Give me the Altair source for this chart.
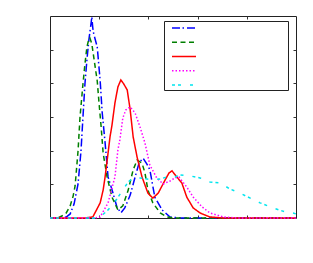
import altair as alt
import pandas as pd

# series names (legend labels are blank in the reference)
names = ["s1", "s2", "s3", "s4", "s5"]
colors = ["#0000ff", "#007f00", "#ff0000", "#ff00ff", "#00e5ee"]
dashes = [[8, 2.5, 1.5, 3], [5, 3.5], [1, 0], [1.5, 2], [3, 3, 3, 9]]

blue_x = [0, 0.24, 0.33, 0.41, 0.49, 0.57, 0.63, 0.67, 0.71, 0.75, 0.79, 0.83, 0.85, 0.87, 0.89, 0.96, 1.02,
          1.06, 1.12, 1.18, 1.28, 1.36, 1.44, 1.52, 1.63, 1.73, 1.81, 1.89, 1.97, 2.03, 2.13, 2.28, 2.44, 2.64, 5.0]
blue_y = [0, 0, 0.03, 0.12, 0.42, 1.01, 1.99, 3.0, 3.98, 4.69, 5.29, 5.73, 5.97, 5.64, 5.46, 5.08, 4.07,
          3.15, 2.23, 1.22, 0.74, 0.33, 0.15, 0.30, 0.68, 1.22, 1.63, 1.78, 1.60, 1.43, 0.62, 0.24, 0.03, 0, 0]

green_x = [0, 0.16, 0.24, 0.33, 0.41, 0.47, 0.51, 0.57, 0.61, 0.67, 0.71, 0.75, 0.79, 0.81, 0.85, 0.91, 0.96,
           1.00, 1.04, 1.08, 1.16, 1.26, 1.38, 1.48, 1.59, 1.69, 1.77, 1.87, 1.93, 1.99, 2.09, 2.24, 2.38, 2.54, 5.0]
green_y = [0, 0, 0.06, 0.15, 0.36, 0.65, 0.95, 1.99, 3.0, 3.98, 4.57, 5.08, 5.32, 5.35, 5.17, 4.57, 4.07,
           3.36, 2.70, 1.93, 1.22, 0.62, 0.24, 0.36, 0.83, 1.43, 1.72, 1.63, 1.34, 0.83, 0.45, 0.15, 0.03, 0, 0]

red_x = [0, 0.71, 0.87, 1.02, 1.08, 1.12, 1.18, 1.22, 1.26, 1.32, 1.38, 1.44, 1.50, 1.57, 1.63, 1.69, 1.77,
         1.87, 1.99, 2.09, 2.20, 2.34, 2.42, 2.48, 2.56, 2.68, 2.78, 2.91, 3.05, 3.25, 3.52, 5.0]
red_y = [0, 0, 0.03, 0.45, 0.83, 1.22, 1.93, 2.41, 2.76, 3.42, 3.89, 4.10, 3.98, 3.80, 3.21, 2.41, 1.81,
         1.22, 0.74, 0.59, 0.74, 1.13, 1.34, 1.40, 1.25, 1.04, 0.62, 0.30, 0.15, 0.03, 0, 0]

mag_x = [0, 0.91, 1.02, 1.18, 1.32, 1.38, 1.42, 1.48, 1.54, 1.63, 1.73, 1.83, 1.93, 2.03, 2.17, 2.30, 2.44,
         2.54, 2.62, 2.78, 2.91, 3.09, 3.25, 3.52, 3.80, 5.0]
mag_y = [0, 0, 0.03, 0.45, 1.22, 2.02, 2.32, 2.97, 3.21, 3.30, 3.12, 2.70, 2.23, 1.57, 1.19, 1.01, 1.10,
         1.19, 1.22, 0.92, 0.62, 0.33, 0.15, 0.03, 0, 0]

cyan_x = [0, 0.91, 1.02, 1.18, 1.32, 1.48, 1.59, 1.69, 1.83, 2.09, 2.24, 2.38, 2.54, 2.64, 2.85, 3.05, 3.25,
          3.46, 3.66, 3.86, 4.07, 4.27, 4.53, 4.78, 4.94, 5.0]
cyan_y = [0, 0, 0.03, 0.24, 0.48, 0.83, 1.07, 1.19, 1.19, 1.13, 1.16, 1.22, 1.22, 1.28, 1.25, 1.19, 1.07,
          1.04, 0.86, 0.74, 0.59, 0.45, 0.30, 0.18, 0.15, 0.12]

x_ticks = [1, 2, 3, 4]
y_ticks = [1, 2, 3, 4, 5]

rows = []
for name, xs, ys in zip(names, [blue_x, green_x, red_x, mag_x, cyan_x], [blue_y, green_y, red_y, mag_y, cyan_y]):
    for i, (a, b) in enumerate(zip(xs, ys)):
        rows.append({"series": name, "x": a, "y": b, "i": i})
df = pd.DataFrame(rows)

xs = alt.Scale(domain=[0, 5], nice=False, zero=False)
ys = alt.Scale(domain=[0, 6], nice=False, zero=False)

def ax(orient, vals):
    return alt.Axis(orient=orient, values=vals, labels=False, domain=False, grid=False,
                    ticks=True, tickSize=3, offset=-3, tickColor="#333", tickWidth=1, title=None)

leg = alt.Legend(orient="none", legendX=114, legendY=5, title=None,
                 symbolType="M0.1667,0H4.1667", symbolSize=144, symbolStrokeWidth=1.5,
                 labelExpr="''", labelOffset=110, rowPadding=2.25,
                 strokeColor="#222", fillColor="white", padding=0)

lines = alt.Chart(df).mark_line(strokeWidth=1.5).encode(
    x=alt.X("x:Q", scale=xs, axis=ax("bottom", x_ticks)),
    y=alt.Y("y:Q", scale=ys, axis=ax("left", y_ticks)),
    color=alt.Color("series:N", scale=alt.Scale(domain=names, range=colors), legend=leg),
    strokeDash=alt.StrokeDash("series:N", scale=alt.Scale(domain=names, range=dashes), legend=leg),
    order="i:Q",
    detail="series:N",
)

frame = alt.Chart(df).mark_line(strokeOpacity=0).encode(
    x=alt.X("x:Q", scale=xs, axis=ax("top", x_ticks)),
    y=alt.Y("y:Q", scale=ys, axis=ax("right", y_ticks)),
    detail="series:N",
    order="i:Q",
)

chart = alt.layer(lines, frame).resolve_axis(x="independent", y="independent").properties(
    width=246, height=202,
    autosize=alt.AutoSizeParams(type="none"),
    padding={"left": 42, "top": 8, "right": 9, "bottom": 37},
).configure(background="white").configure_view(stroke="#222", strokeWidth=1)

chart.save("out.html", embed_options={"renderer": "svg", "actions": False})
